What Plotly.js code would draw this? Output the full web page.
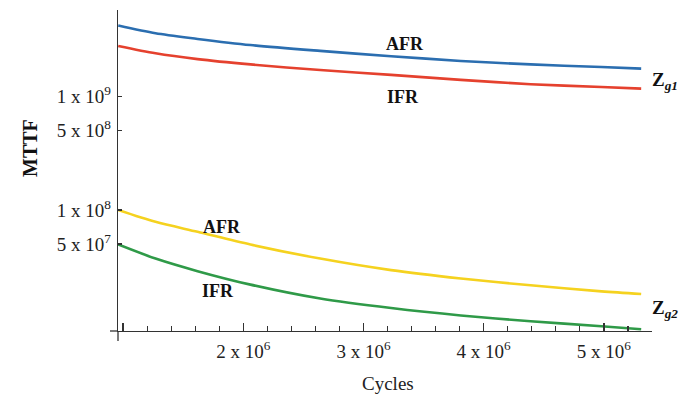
<!DOCTYPE html>
<html>
<head>
<meta charset="utf-8">
<script src="https://cdn.plot.ly/plotly-3.0.1.min.js"></script>
<style>html,body{margin:0;padding:0;background:#fff;}#chart{width:689px;height:399px;}</style>
</head>
<body>
<div id="chart"></div>
<script>
// Data
const cycles = [0.96e6, 1.27e6, 1.62e6, 2.06e6, 2.64e6, 3.23e6, 3.81e6, 4.39e6, 4.98e6, 5.31e6];
const zg1AFR = [4.25e9, 3.63e9, 3.24e9, 2.86e9, 2.54e9, 2.28e9, 2.07e9, 1.93e9, 1.83e9, 1.77e9];
const zg1IFR = [2.81e9, 2.42e9, 2.15e9, 1.93e9, 1.72e9, 1.56e9, 1.41e9, 1.29e9, 1.22e9, 1.18e9];
const zg2AFR = [1.0e8, 7.85e7, 6.41e7, 4.95e7, 3.72e7, 2.94e7, 2.48e7, 2.16e7, 1.91e7, 1.81e7];
const zg2IFR = [4.95e7, 3.72e7, 2.88e7, 2.19e7, 1.65e7, 1.36e7, 1.17e7, 1.04e7, 9.4e6, 8.83e6];

const xTickVals = [1e6, 2e6, 3e6, 4e6, 5e6];
const xTickText = ["", "2 x 10<sup>6</sup>", "3 x 10<sup>6</sup>", "4 x 10<sup>6</sup>", "5 x 10<sup>6</sup>"];
const yTickVals = [5e7, 1e8, 5e8, 1e9];
const yTickText = ["5 x 10<sup>7</sup>", "1 x 10<sup>8</sup>", "5 x 10<sup>8</sup>", "1 x 10<sup>9</sup>"];

const serif = "Liberation Serif, Times New Roman, serif";
const mk = (y, color) => ({
  x: cycles, y: y, type: "scatter", mode: "lines",
  line: {color: color, width: 2.6, shape: "spline", smoothing: 0.8},
  hoverinfo: "skip", showlegend: false
});

const traces = [
  mk(zg1AFR, "#2b6eb0"),
  mk(zg1IFR, "#e5412e"),
  mk(zg2AFR, "#f5d21f"),
  mk(zg2IFR, "#2f9a48")
];

const lblFont = {family: serif, size: 18, color: "#111"};
const pw = 689 - 118 - 37, ph = 399 - 10 - 68;
const layout = {
  width: 689, height: 399,
  margin: {l: 118, r: 37, t: 10, b: 68},
  paper_bgcolor: "#ffffff", plot_bgcolor: "#ffffff",
  xaxis: {
    range: [0.958e6, 5.4e6],
    showgrid: false, zeroline: false,
    showline: true, linecolor: "#333", linewidth: 1.3,
    ticks: "inside", ticklen: 8, tickwidth: 1.2, tickcolor: "#333",
    tickvals: xTickVals, ticktext: xTickText,
    ticklabelstandoff: 3,
    tickfont: {family: serif, size: 19, color: "#222"},
    minor: {dtick: 2e5, ticks: "inside", ticklen: 5, tickwidth: 1.1, tickcolor: "#333", showgrid: false}
  },
  yaxis: {
    type: "log",
    range: [6.931, 9.766],
    showgrid: false, zeroline: false,
    showline: true, linecolor: "#333", linewidth: 1.3,
    ticks: "inside", ticklen: 4, tickwidth: 1.2, tickcolor: "#333",
    tickvals: yTickVals, ticktext: yTickText,
    ticklabelstandoff: 2,
    tickfont: {family: serif, size: 19, color: "#222"}
  },
  shapes: [
    {type: "line", xref: "paper", yref: "paper", x0: 0, x1: 0, y0: -0.031, y1: 0, line: {color: "#333", width: 1.3}},
    {type: "line", xref: "paper", yref: "paper", x0: -0.015, x1: 0, y0: 0, y1: 0, line: {color: "#333", width: 1.3}}
  ],
  annotations: [
    {x: 3.349e6, y: 9.463, xref: "x", yref: "y", text: "<b>AFR</b>", showarrow: false, font: lblFont},
    {x: 3.328e6, y: 9.0, xref: "x", yref: "y", text: "<b>IFR</b>", showarrow: false, font: lblFont},
    {x: 1.821e6, y: 7.851, xref: "x", yref: "y", text: "<b>AFR</b>", showarrow: false, font: lblFont},
    {x: 1.792e6, y: 7.287, xref: "x", yref: "y", text: "<b>IFR</b>", showarrow: false, font: lblFont},
    {x: 5.381e6, y: 9.139, xref: "x", yref: "y", xanchor: "left", text: "<b>Z<sub><i>g1</i></sub></b>", showarrow: false, font: {family: serif, size: 19, color: "#111"}},
    {x: 5.381e6, y: 7.128, xref: "x", yref: "y", xanchor: "left", text: "<b>Z<sub><i>g2</i></sub></b>", showarrow: false, font: {family: serif, size: 19, color: "#111"}},
    {x: (30 - 118) / pw, y: (399 - 68 - 148) / ph, xref: "paper", yref: "paper", xanchor: "center", yanchor: "middle",
     text: "<b>MTTF</b>", showarrow: false, textangle: -90, font: {family: serif, size: 20, color: "#111"}},
    {x: (388 - 118) / pw, y: (399 - 68 - 384) / ph, xref: "paper", yref: "paper", xanchor: "center", yanchor: "middle",
     text: "Cycles", showarrow: false, font: {family: serif, size: 19, color: "#222"}}
  ]
};

Plotly.newPlot("chart", traces, layout, {displayModeBar: false, staticPlot: true});
</script>
</body>
</html>
